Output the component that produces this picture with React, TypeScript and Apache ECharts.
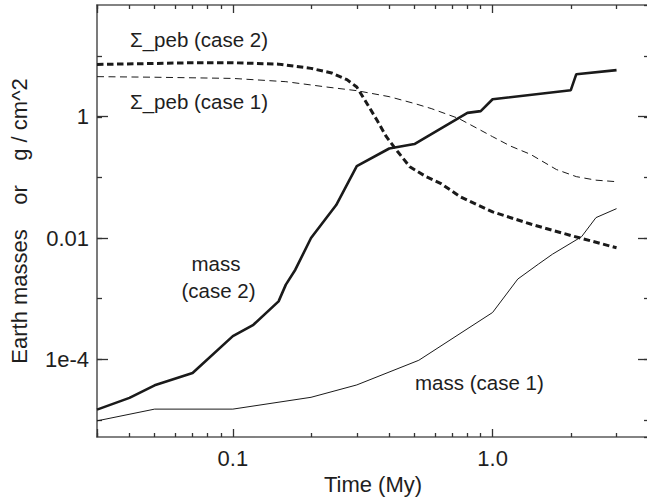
import React, { useEffect, useRef } from 'react';
import * as echarts from 'echarts';

// ---- axis ranges ----
const xRange = [0.03, 4];
const yRange = [5.2e-6, 70];

// ---- tick labels ----
const xLabelValues = [0.1, 1];
const xLabelTexts = ['0.1', '1.0'];
const yLabelExponents = [0, -2, -4];
const yLabelTexts = ['1', '0.01', '1e-4'];
const yMajorExponents = [-4, 0]; // span of the long (major) ticks, every 2 decades

// ---- mass (case 2): thick solid ----
const massCase2Time = [0.03, 0.04, 0.05, 0.07, 0.1, 0.12, 0.15, 0.16, 0.174, 0.2, 0.25, 0.3, 0.4, 0.5, 0.8, 0.9, 1.0, 2.0, 2.1, 3.0];
const massCase2 = [1.47e-5, 2.3e-5, 3.7e-5, 5.9e-5, 2.4e-4, 3.7e-4, 9e-4, 1.7e-3, 3.0e-3, 0.01, 0.035, 0.154, 0.30, 0.355, 1.16, 1.24, 1.95, 2.75, 5.05, 5.9];

// ---- mass (case 1): thin solid ----
const massCase1Time = [0.03, 0.05, 0.1, 0.2, 0.3, 0.52, 1.0, 1.25, 1.5, 1.7, 2.2, 2.5, 3.0];
const massCase1 = [9.6e-6, 1.5e-5, 1.5e-5, 2.35e-5, 3.76e-5, 9.6e-5, 5.9e-4, 2.1e-3, 3.7e-3, 5.4e-3, 0.0105, 0.0217, 0.0305];

// ---- Sigma_peb (case 2): thick dashed ----
const sigmaCase2Time = [0.03, 0.05, 0.07, 0.1, 0.15, 0.2, 0.24, 0.275, 0.3, 0.33, 0.36, 0.39, 0.43, 0.48, 0.55, 0.63, 0.75, 1.0, 1.4, 2.0, 3.0];
const sigmaCase2 = [7.3, 7.6, 7.8, 7.8, 7.4, 6.3, 5.3, 4.1, 3.1, 1.6, 0.86, 0.47, 0.27, 0.15, 0.105, 0.08, 0.048, 0.027, 0.017, 0.011, 0.0069];

// ---- Sigma_peb (case 1): thin dashed ----
const sigmaCase1Time = [0.03, 0.05, 0.1, 0.16, 0.23, 0.3, 0.4, 0.5, 0.58, 0.74, 0.9, 1.0, 1.17, 1.4, 1.76, 2.1, 2.5, 3.0];
const sigmaCase1 = [4.6, 4.5, 4.3, 3.8, 3.1, 2.7, 2.15, 1.66, 1.37, 0.94, 0.6, 0.47, 0.33, 0.24, 0.135, 0.103, 0.09, 0.085];

// ---- annotation texts ----
const annotationTexts = ['Σ_peb (case 2)', 'Σ_peb (case 1)', 'mass', '(case 2)', 'mass (case 1)'];
const xTitle = 'Time (My)';
const yTitle = 'Earth masses    or    g / cm^2';

const FONT = '"Liberation Sans", Arial, Helvetica, sans-serif';
const INK = '#1e1e1e';
const AXIS = '#5a5a5a';
const TICK = '#333333';
const LINE = '#1a1a1a';

const pairs = (t: number[], v: number[]) => t.map((x, i) => [x, v[i]]);

function fmtX(v: number): string {
  for (let i = 0; i < xLabelValues.length; i++) {
    if (Math.abs(v - xLabelValues[i]) < 1e-9 * Math.max(1, xLabelValues[i])) return xLabelTexts[i];
  }
  return '';
}
function fmtY(v: number): string {
  const e = Math.log10(v);
  for (let i = 0; i < yLabelExponents.length; i++) {
    if (Math.abs(e - yLabelExponents[i]) < 1e-6) return yLabelTexts[i];
  }
  return '';
}

function textEl(text: string, x: number, y: number) {
  return {
    type: 'text',
    x,
    y,
    silent: true,
    style: {
      text,
      fill: INK,
      font: `20.5px ${FONT}`,
      fontSize: 20.5,
      fontFamily: FONT,
      align: 'left',
      verticalAlign: 'middle',
      textAlign: 'left',
      textVerticalAlign: 'middle',
    },
  };
}

export default function App() {
  const ref = useRef<HTMLDivElement>(null);
  useEffect(() => {
    if (!ref.current) return;
    const chart = echarts.init(ref.current, undefined, { renderer: 'svg' });
    const tickStyle = () => ({ color: TICK, width: 1.3 });
    const option: any = {
      animation: false,
      backgroundColor: '#ffffff',
      grid: [
        { left: 97, right: -2, top: 5, bottom: 61, containLabel: false, outerBoundsMode: 'none' },
        { left: 97, right: -2, top: 116.7, bottom: 138.9, containLabel: false, outerBoundsMode: 'none' },
      ],
      xAxis: [
        {
          type: 'log', gridIndex: 0, min: xRange[0], max: xRange[1], position: 'bottom',
          axisLine: { show: true, lineStyle: { color: AXIS, width: 1.6 } },
          axisTick: { show: true, inside: true, length: 8, lineStyle: tickStyle() },
          minorTick: { show: true, splitNumber: 9, length: 4, lineStyle: tickStyle() },
          axisLabel: { show: true, margin: 10, fontSize: 22, color: INK, fontFamily: FONT, formatter: fmtX, showMinLabel: false, showMaxLabel: false },
          splitLine: { show: false }, minorSplitLine: { show: false },
          name: xTitle, nameLocation: 'middle', nameGap: 34,
          nameTextStyle: { fontSize: 22, color: INK, fontFamily: FONT },
        },
        {
          type: 'log', gridIndex: 0, min: xRange[0], max: xRange[1], position: 'top',
          axisLine: { show: true, lineStyle: { color: AXIS, width: 1.6 } },
          axisTick: { show: true, inside: true, length: 8, lineStyle: tickStyle() },
          minorTick: { show: true, splitNumber: 9, length: 4, lineStyle: tickStyle() },
          axisLabel: { show: false },
          splitLine: { show: false }, minorSplitLine: { show: false },
        },
        { type: 'value', gridIndex: 1, min: 0, max: 1, show: false },
      ],
      yAxis: [
        {
          type: 'log', gridIndex: 0, min: yRange[0], max: yRange[1], position: 'left',
          axisLine: { show: true, lineStyle: { color: AXIS, width: 1.6 } },
          axisTick: { show: true, inside: true, length: 5, lineStyle: tickStyle() },
          minorTick: { show: false },
          axisLabel: { show: true, margin: 8, fontSize: 22, color: INK, fontFamily: FONT, formatter: fmtY, showMinLabel: false, showMaxLabel: false },
          splitLine: { show: false }, minorSplitLine: { show: false },
          name: yTitle, nameLocation: 'middle', nameGap: 67,
          nameTextStyle: { fontSize: 22, color: INK, fontFamily: FONT },
        },
        {
          type: 'log', gridIndex: 0, min: yRange[0], max: yRange[1], position: 'right',
          axisLine: { show: true, lineStyle: { color: AXIS, width: 1.6 } },
          axisTick: { show: true, inside: true, length: 5, lineStyle: tickStyle() },
          minorTick: { show: false },
          axisLabel: { show: false },
          splitLine: { show: false },
        },
        {
          type: 'value', gridIndex: 1, min: yMajorExponents[0], max: yMajorExponents[1], interval: 2, position: 'left',
          axisLine: { show: false },
          axisTick: { show: true, inside: true, length: 11, lineStyle: tickStyle() },
          axisLabel: { show: false }, splitLine: { show: false },
        },
        {
          type: 'value', gridIndex: 1, min: yMajorExponents[0], max: yMajorExponents[1], interval: 2, position: 'right',
          axisLine: { show: false },
          axisTick: { show: true, inside: true, length: 11, lineStyle: tickStyle() },
          axisLabel: { show: false }, splitLine: { show: false },
        },
      ],
      series: [
        {
          name: 'mass (case 2)', type: 'line', xAxisIndex: 0, yAxisIndex: 0,
          data: pairs(massCase2Time, massCase2), showSymbol: false, symbol: 'none',
          lineStyle: { color: LINE, width: 2.6 }, silent: true,
        },
        {
          name: 'mass (case 1)', type: 'line', xAxisIndex: 0, yAxisIndex: 0,
          data: pairs(massCase1Time, massCase1), showSymbol: false, symbol: 'none',
          lineStyle: { color: LINE, width: 1 }, silent: true,
        },
        {
          name: 'Σ_peb (case 2)', type: 'line', xAxisIndex: 0, yAxisIndex: 0,
          data: pairs(sigmaCase2Time, sigmaCase2), showSymbol: false, symbol: 'none',
          lineStyle: { color: LINE, width: 3, type: [6.5, 3.5] }, silent: true,
        },
        {
          name: 'Σ_peb (case 1)', type: 'line', xAxisIndex: 0, yAxisIndex: 0,
          data: pairs(sigmaCase1Time, sigmaCase1), showSymbol: false, symbol: 'none',
          lineStyle: { color: LINE, width: 1, type: [7, 4.5] }, silent: true,
        },
      ],
      graphic: [
        textEl(annotationTexts[0], 130, 39.3),
        textEl(annotationTexts[1], 130, 101.5),
        textEl(annotationTexts[2], 191.5, 263),
        textEl(annotationTexts[3], 181.5, 290.5),
        textEl(annotationTexts[4], 415, 382.5),
      ],
    };
    chart.setOption(option);
    return () => chart.dispose();
  }, []);
  return (
    <div
      ref={ref}
      style={{ position: 'fixed', left: 0, top: 0, width: 647, height: 498, background: '#ffffff' }}
    />
  );
}
